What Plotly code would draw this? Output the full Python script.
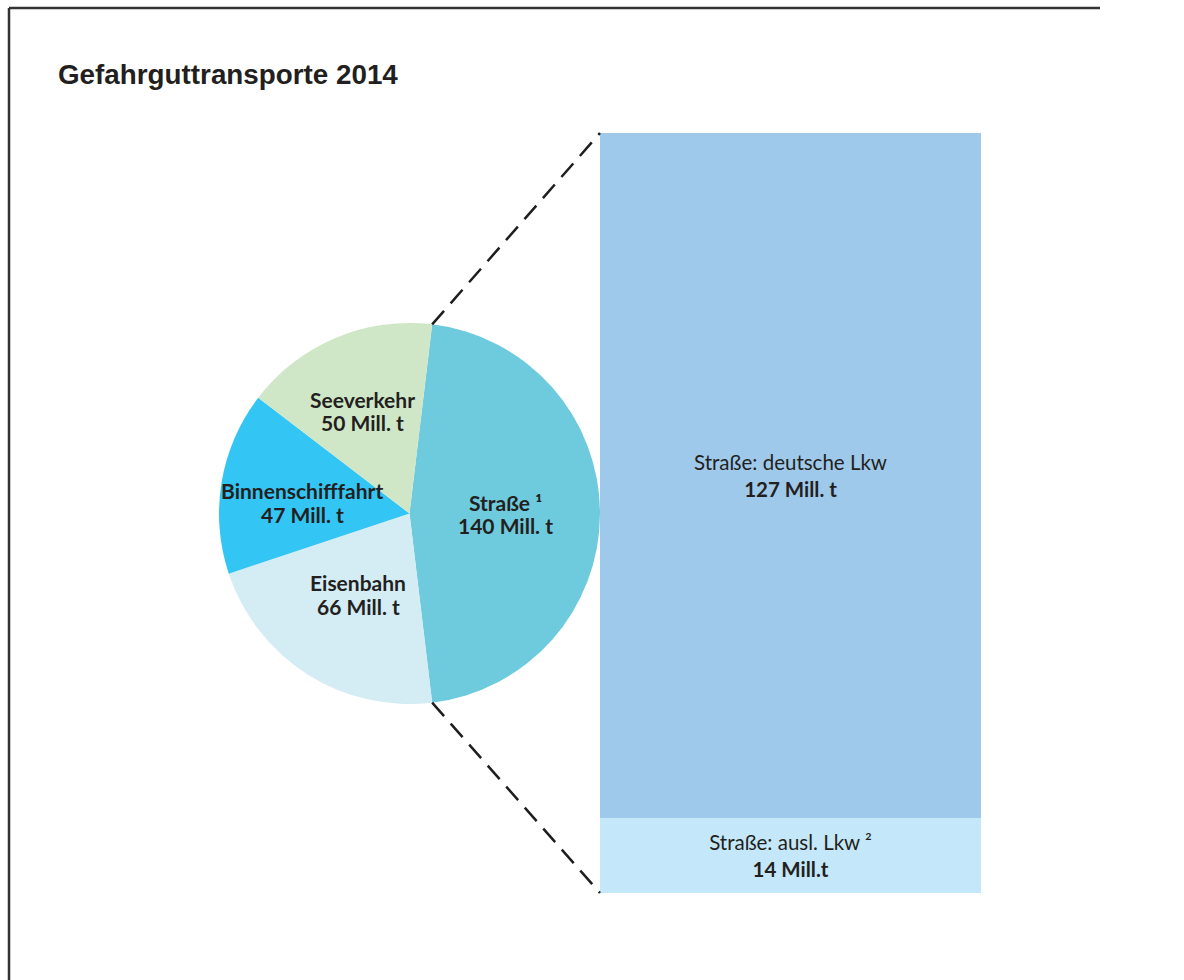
import math
import plotly.graph_objects as go

# Dangerous goods transported in 2014, by mode (million tonnes)
modes = ["Straße", "Eisenbahn", "Binnenschifffahrt", "Seeverkehr"]
mode_labels = ["Straße ¹", "Eisenbahn", "Binnenschifffahrt", "Seeverkehr"]
mode_values = [140, 66, 47, 50]
mode_colors = ["#6ECBDD", "#D4EDF4", "#33C5F3", "#D0E7C7"]

# Breakdown of road transport by truck origin (million tonnes)
road_parts = ["Straße: ausl. Lkw ²", "Straße: deutsche Lkw"]
road_values = [14, 127]
road_value_text = ["14 Mill.t", "127 Mill. t"]
road_colors = ["#C4E8F9", "#9FC9EA"]

W, H = 1184, 980
TEXT = "#231F20"
LABEL_FONT = "Lato, 'Open Sans', sans-serif"


def px(x):
    return x / W


def py(y):
    return 1 - y / H


# pie placement in pixels
cx, cy, r = 409.5, 513.5, 190.5
# bar placement in pixels
bx0, bx1, by_top, by_bot = 600, 981, 133, 893

total = sum(mode_values)
# centre the road slice on 3 o'clock
rotation = 90 - 180 * mode_values[0] / total

fig = go.Figure()

fig.add_trace(go.Pie(
    labels=modes,
    values=mode_values,
    sort=False,
    direction="clockwise",
    rotation=rotation,
    marker=dict(colors=mode_colors, line=dict(width=0)),
    textinfo="none",
    hoverinfo="label+value",
    showlegend=False,
    domain=dict(x=[px(cx - r), px(cx + r)], y=[py(cy + r), py(cy - r)]),
))

for name, val, col, vt in zip(road_parts, road_values, road_colors, road_value_text):
    fig.add_trace(go.Bar(
        x=[0],
        y=[val],
        width=1,
        marker=dict(color=col, line=dict(width=0)),
        text=[f"{name}<br><b>{vt}</b>"],
        textposition="inside",
        insidetextanchor="middle",
        textangle=0,
        textfont=dict(family=LABEL_FONT, size=20.5, color=TEXT),
        hoverinfo="y",
        showlegend=False,
    ))

# pie labels: name line and value line
label_pos = {
    "Straße": (505, 502, 525),
    "Eisenbahn": (358, 582, 606),
    "Binnenschifffahrt": (302, 490, 514),
    "Seeverkehr": (362, 399, 423),
}
annotations = []
for m, lab, v in zip(modes, mode_labels, mode_values):
    x, y1, y2 = label_pos[m]
    for txt, yy in ((f"<b>{lab}</b>", y1), (f"<b>{v} Mill. t</b>", y2)):
        annotations.append(dict(
            x=px(x), y=py(yy), xref="paper", yref="paper",
            text=txt, showarrow=False, xanchor="center", yanchor="middle",
            font=dict(family=LABEL_FONT, size=21, color=TEXT),
        ))

annotations.append(dict(
    x=px(56), y=py(74), xref="paper", yref="paper",
    text="<b>Gefahrguttransporte 2014</b>", showarrow=False,
    xanchor="left", yanchor="middle",
    font=dict(family="Arial, 'Liberation Sans', sans-serif", size=27.8, color=TEXT),
))

# connector lines from the road slice edges to the bar corners
a0 = math.radians(rotation)
a1 = math.radians(rotation + 360 * mode_values[0] / total)
top_pt = (cx + r * math.sin(a0), cy - r * math.cos(a0))
bot_pt = (cx + r * math.sin(a1), cy - r * math.cos(a1))

dash_line = dict(color="#1E1E1E", width=2.5, dash="18px,10px")
frame_line = dict(color="#333333", width=2.5)
shapes = [
    dict(type="line", xref="paper", yref="paper",
         x0=px(top_pt[0]), y0=py(top_pt[1]), x1=px(bx0), y1=py(by_top), line=dash_line),
    dict(type="line", xref="paper", yref="paper",
         x0=px(bot_pt[0]), y0=py(bot_pt[1]), x1=px(bx0), y1=py(by_bot), line=dash_line),
    # frame: left edge and top edge
    dict(type="line", xref="paper", yref="paper",
         x0=px(9), y0=0, x1=px(9), y1=py(8), line=frame_line),
    dict(type="line", xref="paper", yref="paper",
         x0=px(9), y0=py(8), x1=px(1100), y1=py(8), line=frame_line),
]

fig.update_layout(
    width=W, height=H,
    margin=dict(l=0, r=0, t=0, b=0),
    paper_bgcolor="white",
    plot_bgcolor="white",
    barmode="stack",
    bargap=0,
    xaxis=dict(domain=[px(bx0), px(bx1)], range=[-0.5, 0.5], visible=False, fixedrange=True),
    yaxis=dict(domain=[py(by_bot), py(by_top)], range=[0, sum(road_values)], visible=False, fixedrange=True),
    annotations=annotations,
    shapes=shapes,
)

fig.write_html("out.html")
